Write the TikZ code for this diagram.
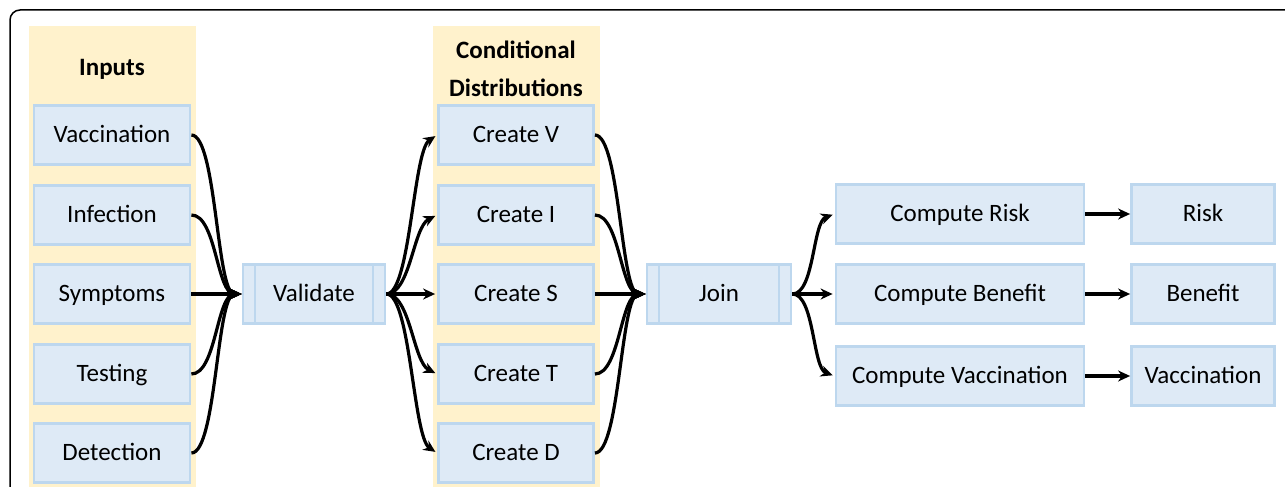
\documentclass[tikz,border=0pt]{standalone}
\usepackage{fontspec}
\setmainfont{Carlito}
\usetikzlibrary{arrows.meta}
\definecolor{boxfill}{HTML}{DEEAF6}
\definecolor{boxline}{HTML}{BDD7EE}
\definecolor{colfill}{HTML}{FFF2CC}

\begin{document}
\begin{tikzpicture}[x=1pt,y=-1pt]
\tikzstyle{every node}=[font=\fontsize{25}{30}\selectfont]
\tikzstyle{box}=[draw=boxline,fill=boxfill,line width=2.8pt,minimum height=59pt,inner sep=0pt,text height=16pt,text depth=2pt]
\tikzstyle{proc}=[box,path picture={
  \draw[boxline,line width=2.8pt]
    ([xshift=12pt]path picture bounding box.north west) -- ([xshift=12pt]path picture bounding box.south west)
    ([xshift=-12pt]path picture bounding box.north east) -- ([xshift=-12pt]path picture bounding box.south east);}]
\tikzstyle{title}=[font=\fontsize{25}{38}\selectfont\bfseries,align=center]
\tikzstyle{flow}=[line width=3.2pt,-{Stealth[length=12pt,width=11pt]}]
\useasboundingbox (0,0) rectangle (1285,487);
% frame and columns
\draw[line width=1.5pt,rounded corners=10pt] (1295,10) -- (10,10) -- (10,497);
\fill[colfill] (29,26) rectangle (196,487);
\fill[colfill] (433,26) rectangle (600,487);
\node[title] (intitle) at (112,69) {Inputs};
\node[title] (cdtitle) at (516,69) {Conditional\\Distributions};
% inputs
\node[box,minimum width=156pt] (vac) at (112,135) {Vaccination};
\node[box,minimum width=156pt] (inf) at (112,215) {Infection};
\node[box,minimum width=156pt] (sym) at (112,294) {Symptoms};
\node[box,minimum width=156pt] (tes) at (112,374) {Testing};
\node[box,minimum width=156pt] (det) at (112,453) {Detection};
\node[proc,minimum width=142pt] (val) at (314,294) {Validate};
% conditional distributions
\node[box,minimum width=155pt] (cv) at (516,135) {Create V};
\node[box,minimum width=155pt] (ci) at (516,215) {Create I};
\node[box,minimum width=155pt] (cs) at (516,294) {Create S};
\node[box,minimum width=155pt] (ct) at (516,374) {Create T};
\node[box,minimum width=155pt] (cd) at (516,453) {Create D};
\node[proc,minimum width=144pt] (join) at (719,294) {Join};
% outputs
\node[box,minimum width=248pt] (crisk) at (960,214) {Compute Risk};
\node[box,minimum width=248pt] (cben) at (960,294) {Compute Benefit};
\node[box,minimum width=248pt] (cvac) at (960,376) {Compute Vaccination};
\node[box,minimum width=143pt] (risk) at (1203,214) {Risk};
\node[box,minimum width=143pt] (ben) at (1203,294) {Benefit};
\node[box,minimum width=143pt] (ovac) at (1203,376) {Vaccination};
% connectors
\foreach \n in {vac,inf,sym,tes,det}
  \draw[flow] (\n.east) .. controls +(25,0) and +(-25,0) .. (val.west);
\foreach \n/\d in {cv/16,ci/12,cs/0,ct/-12,cd/-16}
  \draw[flow,shorten >=2pt] (val.east) .. controls +(24,0) and +(-24,\d) .. (\n.west);
\foreach \n in {cv,ci,cs,ct,cd}
  \draw[flow] (\n.east) .. controls +(25,0) and +(-25,0) .. (join.west);
\foreach \n/\d in {crisk/8,cben/0,cvac/-8}
  \draw[flow,shorten >=2pt] (join.east) .. controls +(22,0) and +(-22,\d) .. (\n.west);
\draw[flow] (crisk) -- (risk);
\draw[flow] (cben) -- (ben);
\draw[flow] (cvac) -- (ovac);
\end{tikzpicture}
\end{document}
